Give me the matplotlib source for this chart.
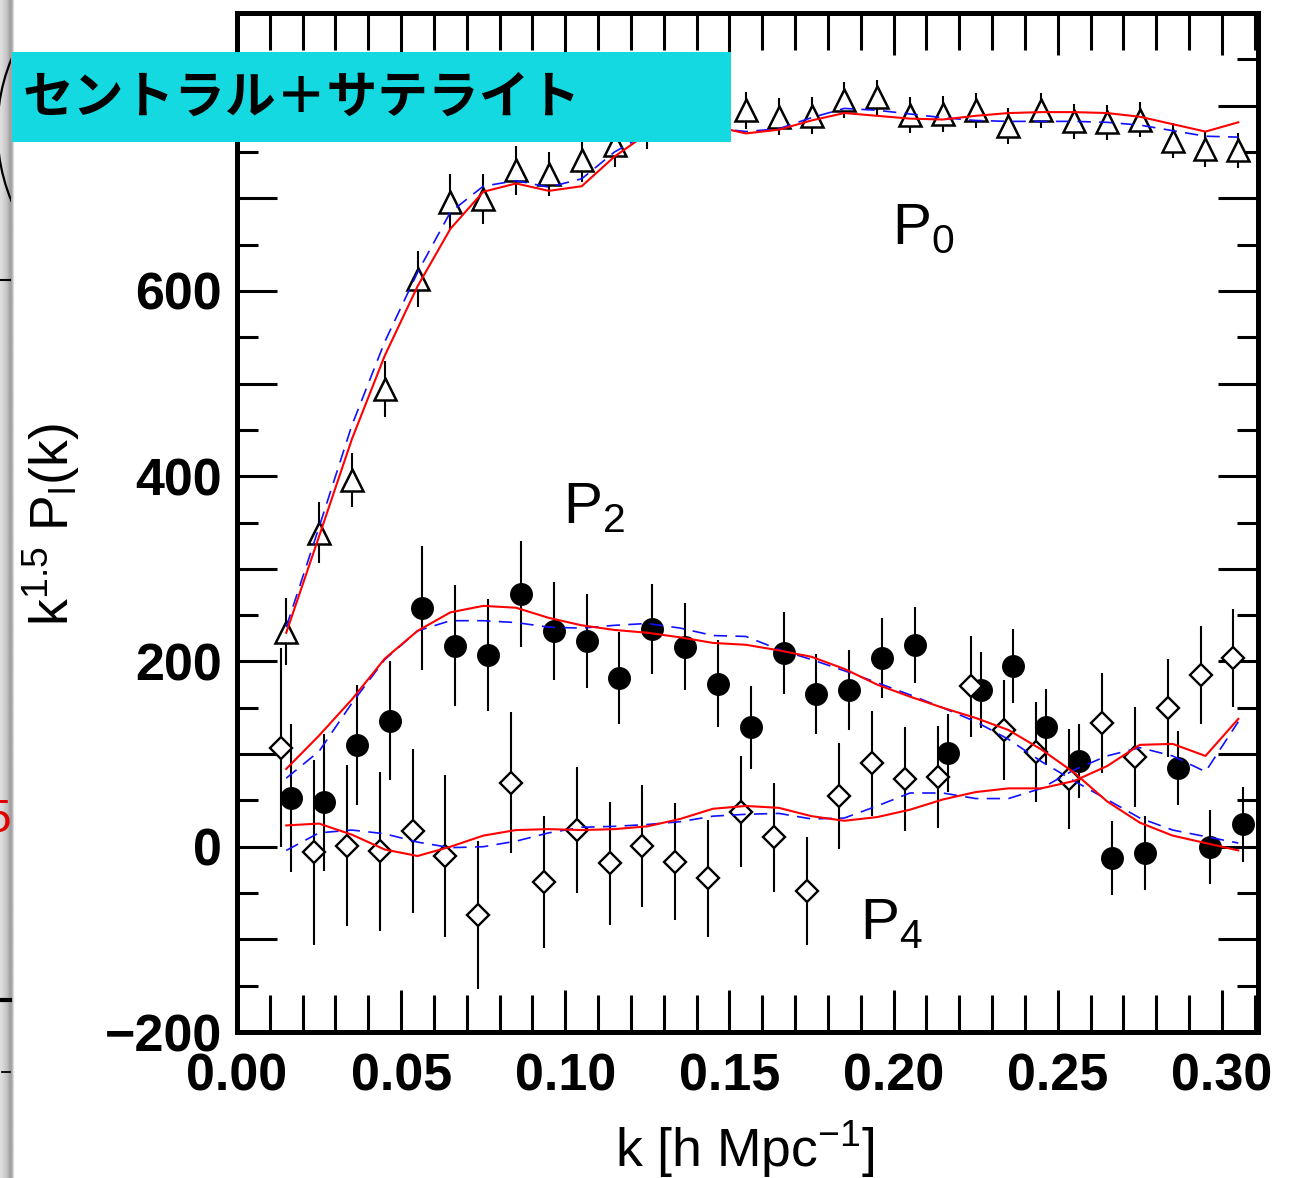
import numpy as np
import matplotlib
matplotlib.use("Agg")
import matplotlib.pyplot as plt
from matplotlib.patches import Rectangle, Arc

plt.rcParams['font.family'] = ['Liberation Sans', 'DejaVu Sans']
plt.rcParams['mathtext.fontset'] = 'custom'
plt.rcParams['mathtext.rm'] = 'Liberation Sans'
plt.rcParams['mathtext.it'] = 'Liberation Sans:italic'
plt.rcParams['mathtext.bf'] = 'Liberation Sans:bold'

# ---------------- data ----------------
k_p0 = [0.015, 0.025, 0.035, 0.045, 0.055, 0.065, 0.075, 0.085, 0.095, 0.105,
        0.115, 0.125, 0.135, 0.145, 0.155, 0.165, 0.175, 0.185, 0.195, 0.205,
        0.215, 0.225, 0.235, 0.245, 0.255, 0.265, 0.275, 0.285, 0.295, 0.305]
k_p2 = [0.0165, 0.0265, 0.0365, 0.0465, 0.0565, 0.0665, 0.0765, 0.0865, 0.0965, 0.1065,
        0.1165, 0.1265, 0.1365, 0.1465, 0.1565, 0.1665, 0.1765, 0.1865, 0.1965, 0.2065,
        0.2165, 0.2265, 0.2365, 0.2465, 0.2565, 0.2665, 0.2765, 0.2865, 0.2965, 0.3065]
k_p4 = [0.0135, 0.0235, 0.0335, 0.0435, 0.0535, 0.0635, 0.0735, 0.0835, 0.0935, 0.1035,
        0.1135, 0.1235, 0.1335, 0.1435, 0.1535, 0.1635, 0.1735, 0.1835, 0.1935, 0.2035,
        0.2135, 0.2235, 0.2335, 0.2435, 0.2535, 0.2635, 0.2735, 0.2835, 0.2935, 0.3035]

p0_data = [232, 339, 396, 494, 613, 696, 699, 730, 726, 741,
           757, 775, 788, 792, 795, 788, 789, 806, 809, 790,
           791, 795, 778, 795, 783, 782, 785, 762, 753, 752]
p0_err = [36, 33, 29, 30, 30, 30, 27, 26, 24, 23,
          23, 22, 21, 21, 20, 20, 20, 19.5, 19, 19,
          19, 19, 19, 19, 19, 19, 19, 19, 19, 19]

p2_data = [53, 48, 110, 136, 258, 217, 207, 273, 233, 222,
           182, 235, 216, 176, 129, 209, 165, 169, 204, 218,
           101, 169, 195, 129, 93, -12, -7, 85, 0, 24]
p2_err = [80, 74, 65, 64, 67, 65, 60, 57, 53, 51,
          50, 49, 47, 47, 45, 44, 43, 43, 43, 41,
          42, 41, 40, 41, 40, 40, 40, 40, 40, 40]

p4_data = [107, -6, 1, -5, 17, -10, -74, 69, -38, 18,
           -18, 1, -16, -34, 38, 10, -48, 55, 90, 73,
           75, 173, 126, 102, 73, 134, 97, 150, 185, 204]
p4_err = [107, 100, 87, 86, 89, 87, 80, 76, 71, 68,
          66, 66, 63, 63, 60, 59, 58, 57, 57, 56,
          55, 55, 54, 54, 54, 54, 54, 53, 53, 53]

p0_red = [231, 335, 440, 530, 605, 667, 707, 716, 708, 713,
          745, 770, 780, 778, 770, 774, 784, 792, 789, 786,
          785, 789, 792, 793, 793, 792, 788, 780, 772, 782]
p0_blue = [237, 345, 455, 545, 620, 685, 713, 719, 712, 721,
           750, 770, 778, 776, 772, 775, 787, 797, 795, 791,
           787, 784, 783, 783, 783, 782, 779, 773, 767, 766]

p2_red = [84, 120, 159, 203, 233, 253, 260, 258, 247, 239,
          234, 231, 226, 220, 218, 212, 205, 192, 175, 162,
          150, 139, 126, 105, 80, 49, 26, 12, 4, -4]
p2_blue = [74, 103, 155, 202, 233, 244, 244, 242, 237, 236,
           239, 241, 236, 228, 227, 213, 202, 190, 177, 164,
           150, 135, 116, 92, 71, 51, 31, 18, 11, 4]

p4_red = [23, 25, 13, -3, -10, 0, 12, 18, 19, 18,
          19, 22, 30, 41, 44, 42, 33, 28, 32, 40,
          51, 59, 63, 63, 71, 87, 110, 111, 98, 138]
p4_blue = [-4, 15, 18, 14, 5, -1, 0, 6, 15, 21,
           22, 24, 27, 33, 35, 36, 30, 31, 44, 58,
           58, 52, 52, 63, 83, 98, 107, 98, 81, 135]

x_ticks = [0.00, 0.05, 0.10, 0.15, 0.20, 0.25, 0.30]
x_tick_labels = ['0.00', '0.05', '0.10', '0.15', '0.20', '0.25', '0.30']
x_minor = [0.01, 0.02, 0.03, 0.04, 0.06, 0.07, 0.08, 0.09, 0.11, 0.12, 0.13, 0.14,
           0.16, 0.17, 0.18, 0.19, 0.21, 0.22, 0.23, 0.24, 0.26, 0.27, 0.28, 0.29, 0.31]
y_ticks = [-200, -100, 0, 100, 200, 300, 400, 500, 600, 700, 800, 900]
y_tick_labels = ['\u2212200', '', '0', '', '200', '', '400', '', '600', '', '800', '']
y_minor = [-150, -50, 50, 150, 250, 350, 450, 550, 650, 750, 850]

title_text = 'セントラル＋サテライト'

# ---------------- figure ----------------
W, H = 1289, 1178
fig = plt.figure(figsize=(W / 100, H / 100), dpi=100)
ax = fig.add_axes([237 / W, 146 / H, 1021 / W, 1019 / H])
ax.set_xlim(0, 0.311)
ax.set_ylim(-200, 900)

# filled circles (P2)
ax.errorbar(k_p2, p2_data, yerr=p2_err, fmt='none', ecolor='black',
            elinewidth=1.5, capsize=0, zorder=2)
ax.plot(k_p2, p2_data, 'o', ms=15.5, mfc='black', mec='black', zorder=2.5)
# open diamonds (P4)
ax.errorbar(k_p4, p4_data, yerr=p4_err, fmt='none', ecolor='black',
            elinewidth=1.5, capsize=0, zorder=3)
ax.plot(k_p4, p4_data, 'D', ms=11, mfc='white', mec='black', mew=1.7, zorder=3.5)
# open triangles (P0)
ax.errorbar(k_p0, p0_data, yerr=p0_err, fmt='none', ecolor='black',
            elinewidth=1.5, capsize=0, zorder=3)
ax.plot(k_p0, p0_data, '^', ms=16.5, mfc='white', mec='black', mew=1.8, zorder=3.5)

# model curves
for red, blue in [(p0_red, p0_blue), (p2_red, p2_blue), (p4_red, p4_blue)]:
    ax.plot(k_p0, blue, color='#1010ff', lw=1.2, dashes=(8, 5), zorder=5)
    ax.plot(k_p0, red, color='#ff0000', lw=1.5, zorder=5.5)

# ticks
ax.set_xticks(x_ticks)
ax.set_xticklabels(x_tick_labels, fontsize=37.5, fontweight='bold')
ax.set_xticks(x_minor, minor=True)
ax.set_yticks(y_ticks)
ax.set_yticklabels(y_tick_labels, fontsize=37.5, fontweight='bold')
ax.set_yticks(y_minor, minor=True)
ax.tick_params(axis='both', which='both', direction='in', top=True, right=True,
               width=2.2, color='black')
ax.tick_params(axis='x', which='major', length=30, pad=15)
ax.tick_params(axis='x', which='minor', length=26.5)
ax.tick_params(axis='y', which='major', length=29, pad=11)
ax.tick_params(axis='y', which='minor', length=15)
for s in ax.spines.values():
    s.set_linewidth(3.6)

# axis labels
ax.set_xlabel('k [h Mpc$^{-1}$]', fontsize=38.5)
ax.xaxis.set_label_coords(0.4976, -0.086)
ax.set_ylabel('k$^{1.5}$ P$_{\\mathrm{l}}$(k)', fontsize=38.5)
ax.yaxis.set_label_coords(-0.152, 0.4975)

# multipole labels
ax.text(0.1995, 651, 'P$_0$', fontsize=42, ha='left', va='baseline', zorder=6)
ax.text(0.0993, 350, 'P$_2$', fontsize=42, ha='left', va='baseline', zorder=6)
ax.text(0.1898, -100, 'P$_4$', fontsize=42, ha='left', va='baseline', zorder=6)

# ---------------- left screenshot residue ----------------
sax = fig.add_axes([0, 0, 15 / W, 1], zorder=5)
sax.set_xlim(0, 15)
sax.set_ylim(H, 0)
sax.axis('off')
grad = np.array([[0.87, 0.86, 0.85, 0.83, 0.81, 0.79, 0.77, 0.74, 0.70, 0.66,
                  0.63, 0.65, 0.72, 0.86, 0.98]])
sax.imshow(grad, cmap='gray', vmin=0, vmax=1, aspect='auto',
           extent=(0, 15, H, 0), interpolation='bilinear')
clip_rect = Rectangle((0, 0), 11, H, transform=sax.transData, visible=False)
sax.add_patch(clip_rect)
arc = Arc((184, 130), 2 * 186.6, 2 * 186.6, theta1=150, theta2=210,
          color='black', lw=1.6)
sax.add_patch(arc)
arc.set_clip_path(clip_rect)
sax.plot([0, 10], [280, 280], color='black', lw=1.5)
sax.plot([0, 10], [1000, 1000], color='black', lw=3)
sax.plot([2, 10], [1072, 1072], color='black', lw=1.3)
fig.text(-15 / W, 1 - 832 / H, '5', color='#e00000', fontsize=33,
         ha='left', va='baseline', zorder=8)

# ---------------- cyan label box ----------------
fig.patches.append(Rectangle((12 / W, 1 - 142 / H), 719 / W, 90 / H,
                             transform=fig.transFigure, facecolor='#14d9e0',
                             edgecolor='none', zorder=6))
fig.text(23 / W, 1 - 98 / H, title_text, fontsize=36.5, fontweight='bold',
         family=['Noto Sans CJK JP', 'DejaVu Sans'], color='black',
         ha='left', va='center', zorder=8)

fig.savefig('out.png', dpi=100)
